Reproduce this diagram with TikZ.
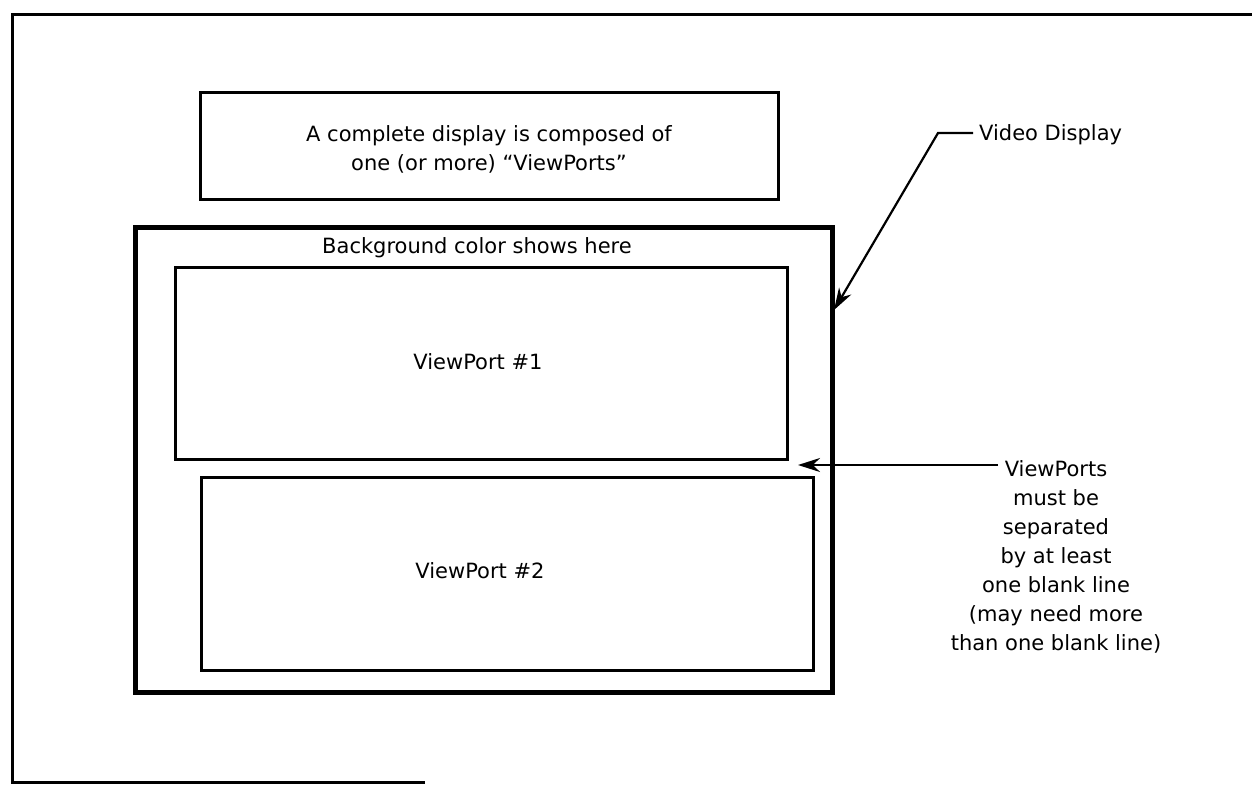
\documentclass[tikz,border=0pt]{standalone}
\usepackage{fontspec}
\setmainfont{DejaVu Sans}
\usetikzlibrary{arrows.meta}
\begin{document}
\begin{tikzpicture}[x=1pt,y=-1pt,
  box/.style={draw, line width=3pt, inner sep=0pt},
  thickbox/.style={draw, line width=5pt, inner sep=0pt},
  lbl/.style={font=\fontsize{21}{29}\selectfont, inner sep=0pt},
  arr/.style={line width=2.2pt, -{Stealth[length=22pt,width=14pt]}}
]
\useasboundingbox (0,0) rectangle (1252,785);
% outer frame
\coordinate (ftr) at (1252,14);
\coordinate (ftl) at (12,14);
\coordinate (fbl) at (12,782);
\coordinate (fbr) at (425,782);
\draw[line width=3pt] (ftr) -- (ftl) -- (fbl) -- (fbr);
% top box
\node[box, minimum width=578pt, minimum height=107pt] (tbox) at (489,145.5) {};
\node[lbl, align=center, anchor=base] (ttext) at (489,170)
  {A complete display is composed of\\one (or more) “ViewPorts”};
% display box
\node[thickbox, minimum width=697pt, minimum height=465pt] (disp) at (483.5,459.5) {};
\node[lbl, anchor=base] (bg) at (477,253) {Background color shows here};
% viewports
\node[box, minimum width=612pt, minimum height=192pt] (vp1) at (481,363) {};
\node[lbl, anchor=base] (vp1t) at (478,369) {ViewPort \#1};
\node[box, minimum width=612pt, minimum height=193pt] (vp2) at (507,573.5) {};
\node[lbl, anchor=base] (vp2t) at (480,578) {ViewPort \#2};
% video display label
\node[lbl, anchor=base west] (vd) at (979,140) {Video Display};
\coordinate (vdA) at (973,133);
\coordinate (vdB) at (938,133);
\coordinate (vdTip) at (834,310);
\draw[arr] (vdA) -- (vdB) -- (vdTip);
% viewports note
\node[lbl, align=center, anchor=base] (note) at (1056,650)
  {ViewPorts\\must be\\separated\\by at least\\one blank line\\(may need more\\than one blank line)};
\coordinate (nA) at (998,465);
\coordinate (nTip) at (798,465);
\draw[arr] (nA) -- (nTip);
\end{tikzpicture}
\end{document}
